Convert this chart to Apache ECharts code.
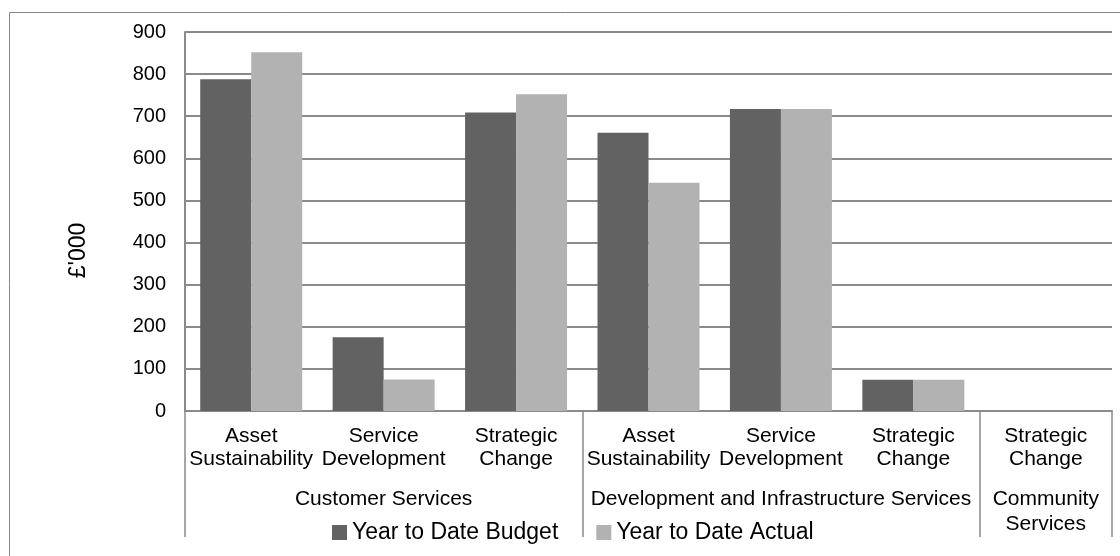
<!DOCTYPE html>
<html>
<head>
<meta charset="utf-8">
<script src="https://cdn.jsdelivr.net/npm/echarts@6/dist/echarts.min.js"></script>
<style>
  html, body { margin: 0; padding: 0; background: #fff; }
  #chart { width: 1120px; height: 556px; }
</style>
</head>
<body>
<div id="chart"></div>
<script>
// sub-categories along the x axis
const subCategories = [
  "Asset\nSustainability", "Service\nDevelopment", "Strategic\nChange",
  "Asset\nSustainability", "Service\nDevelopment", "Strategic\nChange",
  "Strategic\nChange"
];
// group labels, placed on the middle sub-category of each group
const groupLabels = [
  "", "Customer Services", "",
  "", "Development and Infrastructure Services", "",
  "Community\nServices"
];
// first sub-category index of each group
const groupStarts = [0, 3, 6];

const budget = [788, 175, 709, 661, 717, 74, 0];
const actual = [852, 75, 752, 542, 717, 74, 0];

const yTicks = { min: 0, max: 900, interval: 100 };

const font = "'Liberation Sans', Arial, sans-serif";
const gridColor = "#8a8a8a";

const chart = echarts.init(document.getElementById("chart"));

const option = {
  backgroundColor: "#fff",
  animation: false,
  textStyle: { fontFamily: font, color: "#000" },

  // outer chart frame
  graphic: [
    {
      type: "rect",
      shape: { x: 9.5, y: 12.5, width: 1200, height: 700 },
      style: { fill: "none", stroke: "#888", lineWidth: 1 },
      silent: true,
      z: -10,
    },
  ],

  grid: {
    left: 185,
    right: 8,
    top: 32,
    bottom: 145,
  },

  legend: {
    left: 327,
    top: 516,
    icon: "rect",
    itemWidth: 15,
    itemHeight: 15,
    itemGap: 38,
    textStyle: { fontSize: 23, color: "#000", fontFamily: font },
    data: ["Year to Date Budget", "Year to Date Actual"],
  },

  xAxis: [
    {
      type: "category",
      data: subCategories,
      axisLine: { show: true, lineStyle: { color: gridColor, width: 2 } },
      axisTick: { show: false },
      axisLabel: {
        interval: 0,
        fontSize: 21,
        lineHeight: 23,
        margin: 14,
        color: "#000",
        fontFamily: font,
      },
    },
    {
      type: "category",
      data: groupLabels,
      position: "bottom",
      axisLine: { show: false },
      axisTick: {
        show: true,
        length: 126,
        interval: (index) => groupStarts.includes(index),
        lineStyle: { color: gridColor, width: 1.5 },
      },
      axisLabel: {
        interval: 0,
        fontSize: 21,
        lineHeight: 25,
        margin: 76,
        color: "#000",
        fontFamily: font,
      },
    },
  ],

  yAxis: {
    type: "value",
    min: yTicks.min,
    max: yTicks.max,
    interval: yTicks.interval,
    name: "£'000",
    nameLocation: "middle",
    nameGap: 95,
    nameTextStyle: {
      fontSize: 23,
      color: "#000",
      fontFamily: font,
      padding: [0, 58, 0, 0],
    },
    axisLine: { show: true, lineStyle: { color: gridColor, width: 2 } },
    axisTick: { show: false },
    axisLabel: {
      fontSize: 20,
      margin: 19,
      color: "#000",
      fontFamily: font,
    },
    splitLine: {
      show: true,
      lineStyle: { color: gridColor, width: 2 },
    },
  },

  series: [
    {
      name: "Year to Date Budget",
      type: "bar",
      data: budget,
      barWidth: 51,
      barGap: "0%",
      itemStyle: { color: "#626262" },
    },
    {
      name: "Year to Date Actual",
      type: "bar",
      data: actual,
      barWidth: 51,
      itemStyle: { color: "#b2b2b2" },
    },
  ],
};

chart.setOption(option);
</script>
</body>
</html>
